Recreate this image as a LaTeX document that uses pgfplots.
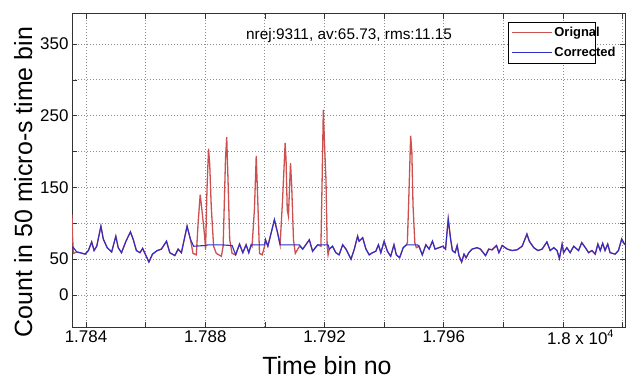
\documentclass[border=0pt]{standalone}
\usepackage{fontspec}
\setmainfont{Liberation Sans}
\usepackage{pgfplots}
\pgfplotsset{compat=1.18}
\definecolor{redline}{RGB}{205,80,80}
\definecolor{blueline}{RGB}{45,45,200}
\definecolor{gridgray}{RGB}{140,140,140}
\begin{document}
\begin{tikzpicture}
\useasboundingbox (0,0) rectangle (630bp,380bp);
\begin{axis}[
  at={(72bp,53bp)}, anchor=south west,
  scale only axis, width=553bp, height=313bp,
  xmin=17835.3, xmax=18020.8, ymin=-44.6, ymax=391.8,
  scaled x ticks=false, scaled y ticks=false,
  xtick={17840,17860,...,18020},
  xticklabels={1.784,,1.788,,1.792,,1.796,,,},
  ytick={0,50,...,350},
  yticklabels={0,50,,150,,250,,350},
  /pgf/number format/assume math mode=true,
  tick align=inside, tick pos=both,
  major tick length=5bp,
  every tick/.style={black!80, line width=0.6bp},
  axis line style={black!80, line width=1bp},
  grid=major,
  major grid style={gridgray, line width=0.8bp, dash pattern=on 0.9bp off 2.1bp},
  ticklabel style={font=\fontsize{17}{20}\selectfont},
  xlabel={Time bin no},
  ylabel={Count in 50 micro-s time bin},
  xlabel style={at={(axis description cs:0.461,-0.153)}, anchor=base, font=\fontsize{25}{28}\selectfont},
  ylabel style={at={(axis description cs:-0.0723,0.463)}, anchor=base, font=\fontsize{25}{28}\selectfont},
  legend style={at={(axis description cs:0.788,0.975)}, anchor=north west, fill=white,
    font=\fontsize{13}{15}\selectfont\bfseries, inner xsep=3bp, inner ysep=3bp, row sep=5bp},
  every axis legend/.append style={line width=0.9pt},
  legend cell align=left,
  legend image code/.code={\draw[#1, line width=1.2bp] (0bp,0bp) -- (40bp,0bp);},
  clip mode=individual,
]
\addplot[color=redline, line width=1.3bp] coordinates {
(17835.3,112) (17835.5,80) (17835.8,58) (17836.9,60) (17838.0,59) (17839.7,57)
(17840.8,62) (17841.9,74) (17842.7,62) (17843.6,68) (17845.0,96) (17845.8,78)
(17847.1,66) (17848.6,60) (17850.0,82) (17850.8,66) (17851.9,59) (17853.4,75)
(17854.9,88) (17855.8,78) (17856.9,62) (17858.1,59) (17859.0,65) (17860.1,55)
(17861.1,46) (17862.3,57) (17863.9,62) (17865.3,64) (17867.0,75) (17868.1,59)
(17869.8,55) (17870.9,64) (17872.0,59) (17873.9,96) (17875.0,78)
(17875.9,58) (17877.0,56) (17877.6,100) (17878.3,140) (17879.0,114) (17879.8,82)
(17880.1,63) (17880.6,150) (17881.1,204) (17881.5,182) (17882.0,124) (17882.8,68)
(17883.7,58) (17885.4,54) (17886.0,68) (17886.8,191) (17887.2,220) (17887.7,151)
(17888.2,77) (17889.0,58) (17890.2,56) (17891.5,71) (17892.6,59) (17893.7,70)
(17894.6,59) (17895.4,70) (17895.7,68) (17896.5,120) (17897.1,194) (17897.6,133)
(17898.2,58) (17899.1,56) (17899.9,68) (17900.2,77) (17901.0,68) (17903.2,105)
(17904.3,86) (17905.1,70) (17905.9,130) (17906.8,212) (17907.1,189) (17907.5,119)
(17907.9,110) (17908.6,184) (17909.0,151) (17909.6,77) (17910.2,58) (17911.6,68)
(17912.7,64) (17914.9,77) (17916.0,61) (17917.7,70) (17918.8,68) (17919.2,160)
(17919.6,258) (17920.1,200) (17920.5,160) (17920.9,68) (17921.2,56) (17921.6,64)
(17922.7,68) (17923.8,59) (17924.9,56) (17926.1,70) (17927.2,64) (17928.9,50)
(17930.0,64) (17931.1,82) (17931.6,75) (17932.8,80) (17933.9,64) (17935.0,56)
(17936.1,59) (17937.2,61) (17938.1,70) (17938.9,59) (17940.0,75) (17941.1,61)
(17942.2,54) (17943.3,70) (17944.1,56) (17945.2,52) (17946.4,66) (17947.5,70)
(17947.8,73) (17948.4,152) (17948.9,222) (17949.3,199) (17949.7,124) (17950.3,73)
(17950.8,66) (17951.7,68) (17952.8,56) (17954.0,70) (17955.1,64) (17956.2,75)
(17957.1,64) (17958.4,66) (17959.7,68) (17960.6,64) (17961.5,106) (17962.3,78)
(17962.9,62) (17963.8,59) (17964.5,69) (17965.1,55) (17966.0,46) (17966.8,57)
(17967.5,52) (17968.4,59) (17969.5,64) (17971.2,66) (17972.3,64) (17974.0,55)
(17975.1,64) (17976.2,63) (17977.7,69) (17978.5,59) (17979.6,69) (17981.3,64)
(17982.9,62) (17984.6,63) (17986.3,68) (17987.9,85) (17988.7,75) (17990.2,66)
(17991.6,62) (17993.0,64) (17994.6,74) (17995.7,62) (17996.9,66) (17998.0,62)
(17998.8,51) (17999.7,71) (18000.2,59) (18001.3,66) (18002.4,59) (18003.6,68)
(18005.2,62) (18006.3,73) (18007.5,66) (18008.6,59) (18009.7,62) (18010.8,57)
(18011.7,71) (18012.5,62) (18013.3,72) (18014.1,62) (18015.0,71) (18015.8,59)
(18017.5,57) (18018.6,62) (18019.7,78) (18020.6,71) (18022.0,75)
};
\addlegendentry{\makebox[36bp][l]{Orignal}}
\addplot[color=blueline, line width=1.1bp] coordinates {
(17835.3,67) (17835.8,66) (17836.9,60) (17838.0,59) (17839.7,57)
(17840.8,62) (17841.9,74) (17842.7,62) (17843.6,68) (17845.0,96) (17845.8,78)
(17847.1,66) (17848.6,60) (17850.0,82) (17850.8,66) (17851.9,59) (17853.4,75)
(17854.9,88) (17855.8,78) (17856.9,62) (17858.1,59) (17859.0,65) (17860.1,55)
(17861.1,46) (17862.3,57) (17863.9,62) (17865.3,64) (17867.0,75) (17868.1,59)
(17869.8,55) (17870.9,64) (17872.0,59) (17873.9,96) (17875.0,78)
(17876.1,68) (17880.0,69) (17881.0,70) (17885.0,70) (17889.0,69)
(17890.2,56) (17891.5,71) (17892.6,59) (17893.7,70) (17894.6,59) (17895.4,70)
(17899.9,70) (17900.2,77) (17901.0,68) (17903.2,105) (17904.3,86) (17905.1,70)
(17911.6,70) (17912.7,64) (17914.9,77) (17916.0,61) (17917.7,70) (17921.2,70)
(17921.6,64)
(17922.7,68) (17923.8,59) (17924.9,56) (17926.1,70) (17927.2,64) (17928.9,50)
(17930.0,64) (17931.1,82) (17931.6,75) (17932.8,80) (17933.9,64) (17935.0,56)
(17936.1,59) (17937.2,61) (17938.1,70) (17938.9,59) (17940.0,75) (17941.1,61)
(17942.2,54) (17943.3,70) (17944.1,56) (17945.2,52) (17946.4,66) (17947.5,70)
(17951.2,70) (17951.7,68) (17952.8,56) (17954.0,70) (17955.1,64) (17956.2,75)
(17957.1,64) (17958.4,66) (17959.7,68) (17960.6,64) (17961.5,106) (17962.3,78)
(17962.9,62) (17963.8,59) (17964.5,69) (17965.1,55) (17966.0,46) (17966.8,57)
(17967.5,52) (17968.4,59) (17969.5,64) (17971.2,66) (17972.3,64) (17974.0,55)
(17975.1,64) (17976.2,63) (17977.7,69) (17978.5,59) (17979.6,69) (17981.3,64)
(17982.9,62) (17984.6,63) (17986.3,68) (17987.9,85) (17988.7,75) (17990.2,66)
(17991.6,62) (17993.0,64) (17994.6,74) (17995.7,62) (17996.9,66) (17998.0,62)
(17998.8,51) (17999.7,71) (18000.2,59) (18001.3,66) (18002.4,59) (18003.6,68)
(18005.2,62) (18006.3,73) (18007.5,66) (18008.6,59) (18009.7,62) (18010.8,57)
(18011.7,71) (18012.5,62) (18013.3,72) (18014.1,62) (18015.0,71) (18015.8,59)
(18017.5,57) (18018.6,62) (18019.7,78) (18020.6,71) (18022.0,75)
};
\addlegendentry{\makebox[36bp][l]{Corrected}}
\node[anchor=base west, font=\fontsize{15.4}{18}\selectfont, inner sep=0pt]
  at (axis description cs:0.3146,0.917) {nrej:9311, av:65.73, rms:11.15};
\node[anchor=base west, font=\fontsize{17}{20}\selectfont, inner sep=0pt]
  at (axis description cs:0.859,-0.0575) {1.8 x 10\raisebox{7bp}{\fontsize{11}{12}\selectfont 4}};
\end{axis}
\end{tikzpicture}
\end{document}
